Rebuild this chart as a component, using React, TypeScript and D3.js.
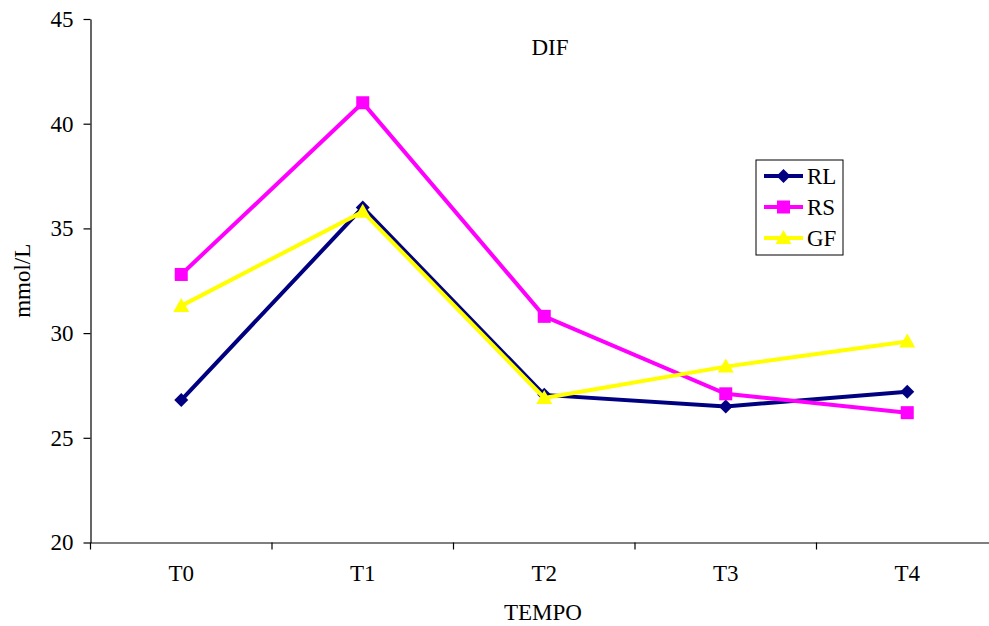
import { useEffect, useRef } from "react"
import * as d3 from "d3"

const categories = ["T0", "T1", "T2", "T3", "T4"]
const yTicks = [20, 25, 30, 35, 40, 45]

const rlValues = [26.8, 36.0, 27.05, 26.5, 27.2]
const rsValues = [32.8, 41.0, 30.8, 27.1, 26.2]
const gfValues = [31.3, 35.8, 26.9, 28.4, 29.6]

const seriesNames = ["RL", "RS", "GF"]

export default function App() {
  const svgRef = useRef<SVGSVGElement>(null)

  useEffect(() => {
    if (!svgRef.current) return
    const svg = d3.select(svgRef.current)
    svg.selectAll("*").remove()

    const W = 989
    const H = 626
    const left = 90.5
    const right = 998
    const top = 19
    const bottom = 542.5
    const font = "'Liberation Serif', 'Times New Roman', serif"
    const fs = "23px"

    const x = d3.scaleBand<string>().domain(categories).range([left, right]).paddingInner(0).paddingOuter(0)
    const y = d3.scaleLinear().domain([20, 45]).range([bottom, top])

    svg.attr("width", W).attr("height", H)
    svg.append("rect").attr("width", W).attr("height", H).attr("fill", "white")

    const series = [
      { name: seriesNames[0], values: rlValues, color: "#000080", marker: "diamond" },
      { name: seriesNames[1], values: rsValues, color: "#ff00ff", marker: "square" },
      { name: seriesNames[2], values: gfValues, color: "#ffff00", marker: "triangle" },
    ]

    // y axis
    const yAxis = svg.append("g").attr("transform", `translate(${left},0)`)
    yAxis.call(d3.axisLeft(y).tickValues(yTicks).tickSize(7).tickSizeOuter(0))
    yAxis.select(".domain").attr("stroke", "#000").attr("stroke-width", 1.2)
    yAxis.selectAll(".tick line").attr("stroke", "#000").attr("stroke-width", 1.2)
    yAxis
      .selectAll(".tick text")
      .attr("x", -17)
      .style("font-family", font)
      .style("font-size", fs)
      .attr("fill", "#000")

    // x axis
    const xAxis = svg.append("g").attr("transform", `translate(0,${bottom})`)
    xAxis.call(d3.axisBottom(x).tickSize(0).tickSizeOuter(0))
    xAxis.select(".domain").attr("stroke", "#000").attr("stroke-width", 1.2)
    xAxis
      .selectAll(".tick text")
      .attr("y", 22)
      .style("font-family", font)
      .style("font-size", fs)
      .attr("fill", "#000")
    xAxis
      .selectAll(".boundary")
      .data(categories)
      .enter()
      .append("line")
      .attr("class", "boundary")
      .attr("x1", (d) => x(d)!)
      .attr("x2", (d) => x(d)!)
      .attr("y1", 0)
      .attr("y2", 7)
      .attr("stroke", "#000")
      .attr("stroke-width", 1.2)

    // labels
    svg
      .append("text")
      .attr("x", 550)
      .attr("y", 55)
      .attr("text-anchor", "middle")
      .style("font-family", font)
      .style("font-size", fs)
      .text("DIF")
    svg
      .append("text")
      .attr("x", 543)
      .attr("y", 620)
      .attr("text-anchor", "middle")
      .style("font-family", font)
      .style("font-size", fs)
      .text("TEMPO")
    svg
      .append("text")
      .attr("transform", `translate(30,${(top + bottom) / 2}) rotate(-90)`)
      .attr("text-anchor", "middle")
      .style("font-family", font)
      .style("font-size", fs)
      .text("mmol/L")

    const cx = (i: number) => x(categories[i])! + x.bandwidth() / 2

    const drawMarker = (g: d3.Selection<SVGGElement, unknown, null, undefined>, kind: string, px: number, py: number, color: string) => {
      if (kind === "diamond") {
        g.append("path")
          .attr("d", `M${px},${py - 7}L${px + 7},${py}L${px},${py + 7}L${px - 7},${py}Z`)
          .attr("fill", color)
      } else if (kind === "square") {
        g.append("rect")
          .attr("x", px - 6.5)
          .attr("y", py - 6.5)
          .attr("width", 13)
          .attr("height", 13)
          .attr("fill", color)
      } else {
        g.append("path")
          .attr("d", `M${px},${py - 8}L${px + 8},${py + 6}L${px - 8},${py + 6}Z`)
          .attr("fill", color)
      }
    }

    const line = d3
      .line<number>()
      .x((_, i) => cx(i))
      .y((d) => y(d))

    series.forEach((s) => {
      const g = svg.append("g")
      g.append("path")
        .datum(s.values)
        .attr("fill", "none")
        .attr("stroke", s.color)
        .attr("stroke-width", 4)
        .attr("d", line)
      s.values.forEach((v, i) => drawMarker(g, s.marker, cx(i), y(v), s.color))
    })

    // legend
    const lg = svg.append("g").attr("transform", "translate(756,160)")
    lg.append("rect")
      .attr("width", 87)
      .attr("height", 95)
      .attr("fill", "white")
      .attr("stroke", "#000")
      .attr("stroke-width", 1)
    series.forEach((s, i) => {
      const ly = 16 + i * 31
      const item = lg.append("g")
      item
        .append("line")
        .attr("x1", 8)
        .attr("x2", 47)
        .attr("y1", ly)
        .attr("y2", ly)
        .attr("stroke", s.color)
        .attr("stroke-width", 4)
      drawMarker(item, s.marker, 27.5, ly, s.color)
      item
        .append("text")
        .attr("x", 51)
        .attr("y", ly + 8)
        .style("font-family", font)
        .style("font-size", fs)
        .text(s.name)
    })
  }, [])

  return <svg ref={svgRef} style={{ position: "absolute", left: 0, top: 0, display: "block" }}></svg>
}
